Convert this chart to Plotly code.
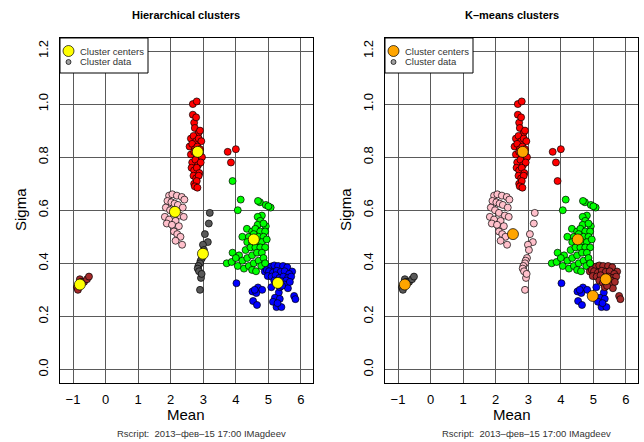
import plotly.graph_objects as go

W, H = 644, 442
FONT = "Liberation Sans, Arial, sans-serif"

# ---- observations (Mean, Sigma), grouped by (hierarchical cluster, k-means cluster) ----
tail_mean = [-0.88, -0.85, -0.79, -0.75, -0.66, -0.57, -0.51]
tail_sigma = [0.31, 0.30, 0.34, 0.33, 0.33, 0.34, 0.35]

pink_mean = [1.95, 2.05, 2.19, 2.34, 2.42, 1.90, 2.02, 2.12, 2.22, 2.37, 1.85, 1.98, 2.10,
             2.28, 1.82, 1.95, 2.15, 2.40, 1.88, 2.04, 2.25, 2.10, 2.20, 2.30, 2.15, 2.35]
pink_sigma = [0.655, 0.66, 0.655, 0.65, 0.64, 0.635, 0.63, 0.625, 0.62, 0.61, 0.61, 0.60, 0.59,
              0.58, 0.575, 0.565, 0.56, 0.575, 0.55, 0.545, 0.54, 0.52, 0.51, 0.50, 0.485, 0.47]

gray_mean = [3.20, 3.17, 3.05, 3.14, 2.99, 3.02, 2.96, 2.92, 2.90, 2.85, 2.83, 2.87, 2.93, 2.90, 2.95]
gray_sigma = [0.59, 0.55, 0.51, 0.48, 0.47, 0.45, 0.42, 0.41, 0.40, 0.39, 0.38, 0.37, 0.345, 0.30, 0.36]

red_mean = [2.68, 2.80, 2.68, 2.72, 2.78, 2.74, 2.85, 2.90, 2.62, 2.70, 2.78, 2.86, 2.94, 2.58,
            2.66, 2.74, 2.82, 2.90, 2.62, 2.72, 2.80, 2.88, 2.96, 2.66, 2.76, 2.84, 2.92, 2.64,
            2.72, 2.80, 2.88, 2.70, 2.78, 2.86, 2.72, 2.80, 2.74, 2.82, 3.75, 4.00, 3.85]
red_sigma = [1.00, 1.01, 0.96, 0.93, 0.95, 0.91, 0.89, 0.90, 0.87, 0.88, 0.86, 0.87, 0.86, 0.84,
             0.85, 0.83, 0.84, 0.83, 0.81, 0.82, 0.80, 0.81, 0.80, 0.78, 0.79, 0.77, 0.78, 0.76,
             0.75, 0.76, 0.74, 0.73, 0.72, 0.73, 0.70, 0.71, 0.69, 0.685, 0.82, 0.83, 0.78]

stray_mean = [3.90]
stray_sigma = [0.71]

green_mean = [4.15, 4.06, 4.74, 4.68, 4.92, 5.07, 5.00, 4.80, 4.67, 4.75, 4.92, 4.67, 4.85, 4.34,
              4.50, 4.60, 4.75, 4.90, 4.20, 4.40, 4.55, 4.70, 4.85, 4.35, 4.50, 4.65, 4.80, 4.95,
              3.90, 4.10, 4.30, 4.45, 4.60, 4.75, 4.90, 3.72, 3.87, 4.00, 4.06, 4.20, 4.35, 4.50,
              4.65, 4.80, 4.25, 4.40, 4.55, 4.70, 4.85, 4.50, 4.62, 4.78, 4.90]
green_sigma = [0.64, 0.60, 0.63, 0.635, 0.62, 0.61, 0.615, 0.58, 0.575, 0.56, 0.54, 0.545, 0.55,
               0.53, 0.52, 0.53, 0.52, 0.52, 0.50, 0.50, 0.51, 0.50, 0.50, 0.48, 0.48, 0.48, 0.48,
               0.49, 0.44, 0.43, 0.45, 0.46, 0.46, 0.46, 0.46, 0.40, 0.405, 0.42, 0.39, 0.41, 0.42,
               0.43, 0.44, 0.44, 0.38, 0.39, 0.40, 0.41, 0.42, 0.375, 0.37, 0.39, 0.40]

blue_mean = [4.02, 4.51, 4.68, 4.81, 4.63, 4.53, 4.65, 5.09, 5.32, 5.20, 5.35, 5.14, 5.25, 5.40,
             5.28, 4.58]
blue_sigma = [0.325, 0.294, 0.309, 0.30, 0.288, 0.258, 0.243, 0.31, 0.29, 0.27, 0.266, 0.255,
              0.235, 0.235, 0.25, 0.30]

upper_mean = [4.89, 4.95, 5.09, 5.18, 5.30, 5.45, 5.58, 5.73, 5.02, 5.14, 5.26, 5.38, 5.50, 5.64,
              4.98, 5.10, 5.22, 5.34, 5.46, 5.60, 5.70, 5.18, 5.29, 5.42, 5.55, 5.35, 5.50, 5.60,
              5.79, 5.83, 5.42, 5.66]
upper_sigma = [0.369, 0.375, 0.388, 0.392, 0.39, 0.39, 0.385, 0.369, 0.37, 0.365, 0.372, 0.368,
               0.37, 0.36, 0.352, 0.35, 0.355, 0.345, 0.35, 0.345, 0.35, 0.335, 0.326, 0.332,
               0.335, 0.31, 0.32, 0.306, 0.277, 0.265, 0.315, 0.33]

# cluster centres
hier_center_mean = [-0.79, 2.13, 2.83, 2.99, 4.55, 5.29]
hier_center_sigma = [0.32, 0.594, 0.82, 0.436, 0.49, 0.326]
km_center_mean = [-0.79, 2.53, 2.83, 4.52, 5.38, 4.98]
km_center_sigma = [0.32, 0.51, 0.82, 0.49, 0.34, 0.277]

groups = {
    "tail": (tail_mean, tail_sigma),
    "pink": (pink_mean, pink_sigma),
    "gray": (gray_mean, gray_sigma),
    "red": (red_mean, red_sigma),
    "stray": (stray_mean, stray_sigma),
    "green": (green_mean, green_sigma),
    "blue": (blue_mean, blue_sigma),
    "upper": (upper_mean, upper_sigma),
}

hier_colors = {"tail": "#A52A2A", "pink": "#FFC0CB", "gray": "#595959", "red": "#FF0000",
               "stray": "#00FF00", "green": "#00FF00", "blue": "#0000FF", "upper": "#0000FF"}
km_colors = {"tail": "#595959", "pink": "#FFC0CB", "gray": "#FFC0CB", "red": "#FF0000",
             "stray": "#FF0000", "green": "#00FF00", "blue": "#0000FF", "upper": "#A52A2A"}

fig = go.Figure()

panels = [("x", "y", hier_colors, hier_center_mean, hier_center_sigma, "#FFFF00"),
          ("x2", "y2", km_colors, km_center_mean, km_center_sigma, "#FFA500")]

for xa, ya, colors, cm, cs, ccol in panels:
    for key, (mx, sy) in groups.items():
        fig.add_trace(go.Scatter(
            x=mx, y=sy, xaxis=xa, yaxis=ya, mode="markers", showlegend=False,
            marker=dict(size=7, color=colors[key], line=dict(color="black", width=0.7)),
        ))
    fig.add_trace(go.Scatter(
        x=cm, y=cs, xaxis=xa, yaxis=ya, mode="markers", showlegend=False,
        marker=dict(size=11, color=ccol, line=dict(color="black", width=0.7)),
    ))

# ---- layout geometry (pixels) ----
box_top, box_bot = 38, 383
left_box = (60, 313)
right_box = (385, 638)

def xdom(b):
    return [b[0] / W, b[1] / W]

ydom = [1 - box_bot / H, 1 - box_top / H]

axis_common = dict(
    showline=True, mirror=True, linecolor="black", linewidth=1,
    showgrid=True, gridcolor="#5a5a5a", gridwidth=1, zeroline=False,
    ticks="outside", ticklen=4, tickcolor="rgba(0,0,0,0)",
    tickfont=dict(family=FONT, size=13, color="black"),
)
xcommon = dict(axis_common, range=[-1.4, 6.37], tickmode="array",
               tickvals=[-1, 0, 1, 2, 3, 4, 5, 6])
ycommon = dict(axis_common, range=[-0.051, 1.249], tickmode="array",
               tickvals=[0, 0.2, 0.4, 0.6, 0.8, 1.0, 1.2],
               ticktext=["0.0", "0.2", "0.4", "0.6", "0.8", "1.0", "1.2"], tickangle=-90)
ycommon["ticklen"] = 6

fig.update_layout(
    width=W, height=H, margin=dict(l=0, r=0, t=0, b=0),
    paper_bgcolor="white", plot_bgcolor="white", showlegend=False,
    xaxis=dict(xcommon, domain=xdom(left_box), anchor="y"),
    yaxis=dict(ycommon, domain=ydom, anchor="x"),
    xaxis2=dict(xcommon, domain=xdom(right_box), anchor="y2"),
    yaxis2=dict(ycommon, domain=ydom, anchor="x2"),
)

annotations = []
shapes = []

def px(x):
    return x / W

def py(y):
    return 1 - y / H

titles = ["Hierarchical clusters", "K–means clusters"]
center_names = ["#FFFF00", "#FFA500"]
for box, title, ccol in zip([left_box, right_box], titles, center_names):
    cx = (box[0] + box[1]) / 2
    annotations.append(dict(x=px(cx), y=py(15), xref="paper", yref="paper", text="<b>%s</b>" % title,
                            showarrow=False, font=dict(family=FONT, size=11, color="black"),
                            xanchor="center", yanchor="middle"))
    annotations.append(dict(x=px(cx), y=py(414), xref="paper", yref="paper", text="Mean",
                            showarrow=False, font=dict(family=FONT, size=15, color="black"),
                            xanchor="center", yanchor="middle"))
    annotations.append(dict(x=px(box[0] - 40), y=py(210), xref="paper", yref="paper", text="Sigma",
                            showarrow=False, textangle=-90,
                            font=dict(family=FONT, size=15, color="black"),
                            xanchor="center", yanchor="middle"))
    annotations.append(dict(x=px(cx + 15), y=py(433), xref="paper", yref="paper",
                            text="Rscript:  2013–фев–15 17:00 IMagdeev",
                            showarrow=False, font=dict(family=FONT, size=9.5, color="#333333"),
                            xanchor="center", yanchor="middle"))
    # legend box
    lx0, ly0 = box[0], box_top
    shapes.append(dict(type="rect", xref="paper", yref="paper",
                       x0=px(lx0), x1=px(lx0 + 88), y0=py(ly0 + 35), y1=py(ly0),
                       line=dict(color="black", width=1), fillcolor="white", layer="above"))
    shapes.append(dict(type="circle", xref="paper", yref="paper",
                       x0=px(lx0 + 3), x1=px(lx0 + 14), y0=py(ly0 + 18.5), y1=py(ly0 + 7.5),
                       line=dict(color="black", width=0.7), fillcolor=ccol, layer="above"))
    shapes.append(dict(type="circle", xref="paper", yref="paper",
                       x0=px(lx0 + 6), x1=px(lx0 + 11), y0=py(ly0 + 26.5), y1=py(ly0 + 21.5),
                       line=dict(color="black", width=0.7), fillcolor="#A0A0A0", layer="above"))
    annotations.append(dict(x=px(lx0 + 18), y=py(ly0 + 13), xref="paper", yref="paper",
                            text="Cluster centers", showarrow=False,
                            font=dict(family=FONT, size=9.5, color="#333333"),
                            xanchor="left", yanchor="middle"))
    annotations.append(dict(x=px(lx0 + 18), y=py(ly0 + 24), xref="paper", yref="paper",
                            text="Cluster data", showarrow=False,
                            font=dict(family=FONT, size=9.5, color="#333333"),
                            xanchor="left", yanchor="middle"))

fig.update_layout(annotations=annotations, shapes=shapes)

fig.write_html("out.html")
